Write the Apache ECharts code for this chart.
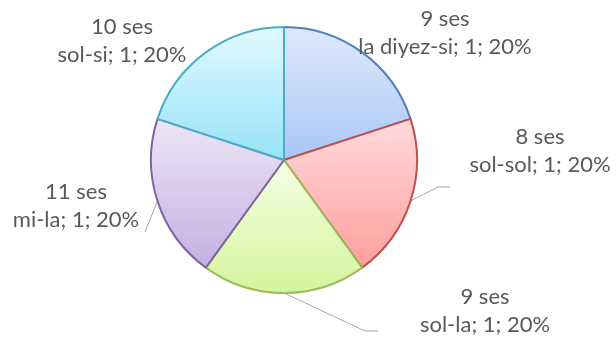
<!DOCTYPE html>
<html>
<head>
<meta charset="utf-8">
<script src="https://cdn.jsdelivr.net/npm/echarts@6/dist/echarts.min.js"></script>
<style>
  html, body { margin: 0; padding: 0; background: #fff; }
  #chart { width: 616px; height: 342px; }
</style>
</head>
<body>
<div id="chart"></div>
<script>
// Interval groups (number of tones) and interval names, one slice each
const toneCounts = ['9 ses', '8 ses', '9 ses', '11 ses', '10 ses'];
const intervals = ['la diyez-si', 'sol-sol', 'sol-la', 'mi-la', 'sol-si'];
const values = [1, 1, 1, 1, 1];

// Slice styling: gradient top/bottom and outline colour
const fillTop = ['#dfe9fc', '#ffdcdc', '#f4ffe6', '#ede6f6', '#e2f8fe'];
const fillBottom = ['#a9c6f8', '#ff9d9d', '#d4f59c', '#c3b0e2', '#96e3f8'];
const edgeColors = ['#4f81bd', '#c0504d', '#9bbb59', '#8064a2', '#4bacc6'];

// Label anchor points (centre of each two-line label)
const labelSpots = [[445, 33], [540, 151], [485, 311], [76, 206], [122, 41]];
// Leader line end relative to its label centre: [dx, dy, horizontal run]
const guideEnds = [null, [-90, 36, 12], [-107, 20, 13], [69, 26, 0], null];

const chart = echarts.init(document.getElementById('chart'), null, { renderer: 'canvas' });

const data = values.map((v, i) => ({
  value: v,
  name: intervals[i],
  itemStyle: {
    color: new echarts.graphic.LinearGradient(0, 0, 0, 1, [
      { offset: 0, color: fillTop[i] },
      { offset: 1, color: fillBottom[i] }
    ]),
    borderColor: edgeColors[i],
    borderWidth: 2
  },
  labelLine: { show: guideEnds[i] !== null }
}));

chart.setOption({
  animation: false,
  series: [{
    type: 'pie',
    center: [284, 160],
    radius: [0, 133],
    startAngle: 90,
    clockwise: true,
    avoidLabelOverlap: false,
    data: data,
    label: {
      show: true,
      position: 'outside',
      overflow: 'none',
      bleedMargin: 0,
      fontFamily: 'Lato',
      fontSize: 22,
      lineHeight: 28,
      color: '#595959',
      align: 'center',
      formatter: p => toneCounts[p.dataIndex] + '\n' + p.name + '; ' + p.value + '; ' + Math.round(p.percent) + '%'
    },
    labelLine: {
      lineStyle: { color: '#a6a6a6', width: 1 },
      length: 10,
      length2: 10
    },
    labelLayout: p => {
      const i = p.dataIndex;
      const lx = labelSpots[i][0];
      const ly = labelSpots[i][1];
      const out = { x: lx, y: ly, align: 'center', verticalAlign: 'middle' };
      const g = guideEnds[i];
      if (g && p.labelLinePoints) {
        // start on the arc at the slice's mid angle, as computed by the pie layout
        const start = p.labelLinePoints[0];
        const end = [lx + g[0], ly + g[1]];
        const knee = [end[0] - g[2], end[1]];
        out.labelLinePoints = [start, knee, end];
      }
      return out;
    }
  }]
});
</script>
</body>
</html>
